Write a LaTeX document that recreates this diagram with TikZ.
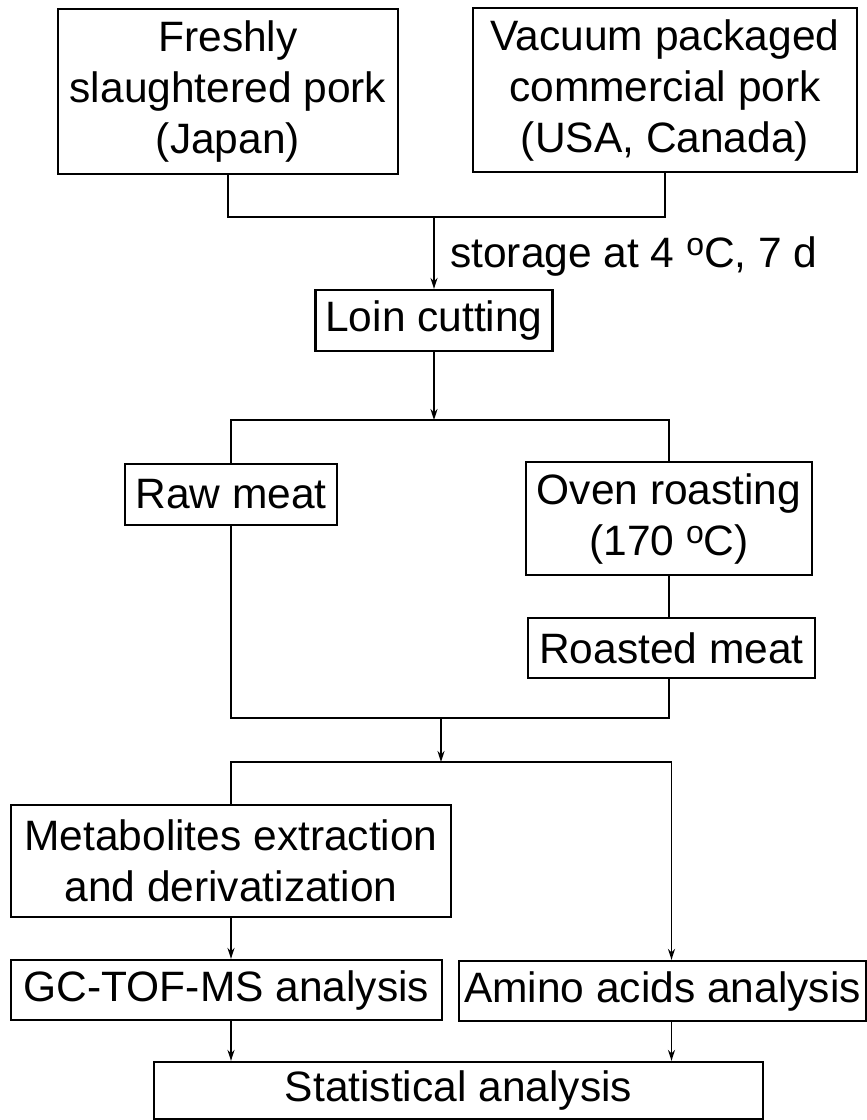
\documentclass[tikz,border=0pt]{standalone}
\usepackage{fontspec}
\setmainfont{Liberation Sans}
\usetikzlibrary{arrows.meta}
\newcommand{\dego}{\raisebox{12pt}{\fontsize{32}{32}\selectfont o}}

\begin{document}
\begin{tikzpicture}[x=1pt, y=-1pt,
       box/.style={draw, line width=2.3pt, inner sep=0pt, align=center,
             font=\fontsize{42.5}{51}\selectfont},
       lbl/.style={inner sep=0pt, anchor=west, font=\fontsize{42.5}{51}\selectfont},
       line/.style={line width=1.9pt},
       arr/.style={line width=1.9pt, -{Stealth[length=11pt, width=7pt]}}]
\useasboundingbox (0,0) rectangle (867,1120);
% sources
\node[box, minimum width=340pt, minimum height=165pt] (fresh) at (228,91.5)
    {Freshly\\slaughtered pork\\(Japan)};
\node[box, minimum width=384pt, minimum height=164pt] (vacuum) at (665,90)
    {Vacuum packaged\\commercial pork\\(USA, Canada)};
\node[box, minimum width=237pt, minimum height=61pt] (loin) at (434,320.5) {Loin cutting};
\node[lbl] (store) at (450,257) {storage at 4 \dego C, 7 d};
% cooking
\node[box, minimum width=212pt, minimum height=61pt] (raw) at (231,494.5) {Raw meat};
\node[box, minimum width=286pt, minimum height=113pt] (oven) at (669,518.5)
    {Oven roasting\\(170 \dego C)};
\node[box, minimum width=287pt, minimum height=60pt] (roasted) at (671.5,648) {Roasted meat};
% analysis
\node[box, minimum width=440pt, minimum height=112pt] (metab) at (231,861)
    {Metabolites extraction\\and derivatization};
\node[box, minimum width=431pt, minimum height=60pt] (gc) at (226.5,990) {GC-TOF-MS analysis};
\node[box, minimum width=407pt, minimum height=60pt] (amino) at (662.5,991) {Amino acids analysis};
\node[box, minimum width=609pt, minimum height=57pt] (stat) at (458.5,1090.5) {Statistical analysis};

\coordinate (join1) at (434,217);
\coordinate (split1) at (434,420);
\coordinate (join2) at (441,718);
\coordinate (split2) at (441,762);

\draw[line] (fresh.south) |- (join1) -| (vacuum.south);
\draw[arr] (join1) -- (loin);
\draw[arr] (loin) -- (split1);
\draw[line] (raw.north) |- (split1) -| (oven.north);
\draw[line] (oven.south) -- (oven.south |- roasted.north);
\draw[line] (raw.south) |- (join2) -| (oven.south |- roasted.south);
\draw[arr] (join2) -- (split2);
\draw[line] (metab.north) |- (split2);
\draw[arr] (split2) -| ([xshift=9pt]amino.north);
\draw[arr] (metab) -- (metab |- gc.north);
\draw[arr] (metab |- gc.south) -- (metab |- stat.north);
\draw[arr] ([xshift=9pt]amino.south) -- ([xshift=9pt]amino.south |- stat.north);
\end{tikzpicture}
\end{document}
